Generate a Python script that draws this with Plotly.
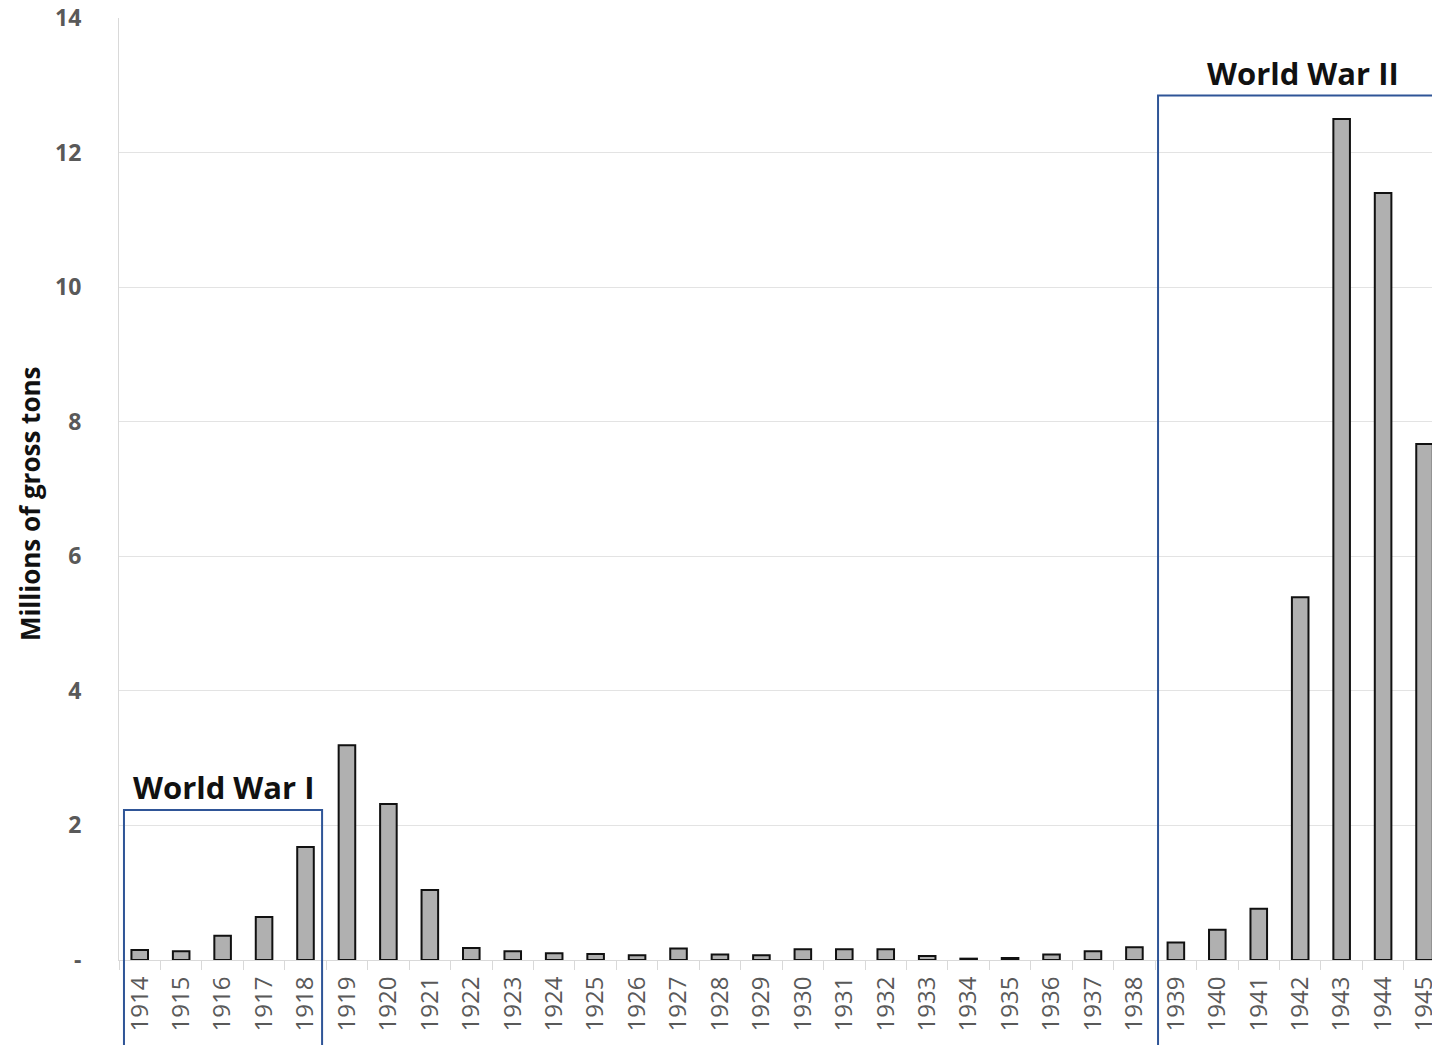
import plotly.graph_objects as go

years = [str(y) for y in range(1914, 1946)]
tons = [0.15, 0.13, 0.36, 0.64, 1.68, 3.19, 2.32, 1.04, 0.18, 0.13, 0.10, 0.09, 0.07,
        0.17, 0.08, 0.07, 0.16, 0.16, 0.16, 0.06, 0.02, 0.03, 0.08, 0.13, 0.19,
        0.26, 0.45, 0.76, 5.39, 12.50, 11.40, 7.67]

y_ticks = [0, 2, 4, 6, 8, 10, 12, 14]
y_ticktext = ["-", "2", "4", "6", "8", "10", "12", "14"]

YMAX = 14
wars = [
    {"label": "World War I", "x0": -0.38, "x1": 4.40, "top": 2.23, "tx": 2.01, "ty": 2.57},
    {"label": "World War II", "x0": 24.57, "x1": 33.0, "top": 12.85, "tx": 28.06, "ty": 13.18},
]

FONT = "Open Sans"

fig = go.Figure()
fig.add_trace(go.Bar(
    x=years, y=tons,
    marker=dict(color="#B0B0B0", line=dict(color="#111111", width=2)),
    width=0.4,
))

shapes = []
annotations = []
for w in wars:
    shapes.append(dict(
        type="rect", xref="x", yref="paper",
        x0=w["x0"], x1=w["x1"], y0=-0.5, y1=w["top"] / YMAX,
        line=dict(color="#2F5597", width=2), fillcolor="rgba(0,0,0,0)",
        layer="above",
    ))
    annotations.append(dict(
        text=w["label"], xref="x", yref="y", x=w["tx"], y=w["ty"],
        showarrow=False, xanchor="center", yanchor="middle",
        font=dict(family=FONT, size=31, color="#111111", weight="bold"),
    ))

annotations.append(dict(
    text="Millions of gross tons", textangle=-90,
    xref="paper", yref="paper", x=-0.0678, y=0.485,
    showarrow=False, xanchor="center", yanchor="middle",
    font=dict(family=FONT, size=26, color="#111111", weight="bold"),
))

fig.update_layout(
    width=1432, height=1045,
    margin=dict(l=119, r=0, t=18, b=85, autoexpand=False),
    paper_bgcolor="white", plot_bgcolor="white",
    showlegend=False,
    shapes=shapes, annotations=annotations,
    font=dict(family=FONT),
)
fig.update_xaxes(
    type="category", categoryorder="array", categoryarray=years,
    range=[-0.5, 31.18],
    tickangle=-90, tickson="boundaries", ticks="outside", ticklen=9,
    tickcolor="#D9D9D9", tickwidth=1,
    showline=True, linecolor="#D9D9D9", linewidth=1,
    showgrid=False, ticklabelstandoff=6,
    tickfont=dict(family=FONT, size=24, color="#595959"),
)
fig.update_yaxes(
    range=[0, YMAX], tickvals=y_ticks, ticktext=y_ticktext,
    showgrid=True, gridcolor="#E3E3E3", gridwidth=1,
    zeroline=False,
    showline=True, linecolor="#D9D9D9", linewidth=1,
    ticks="", ticklabelstandoff=32,
    tickfont=dict(family=FONT, size=23, color="#595959", weight="bold"),
)

fig.write_html("out.html")
